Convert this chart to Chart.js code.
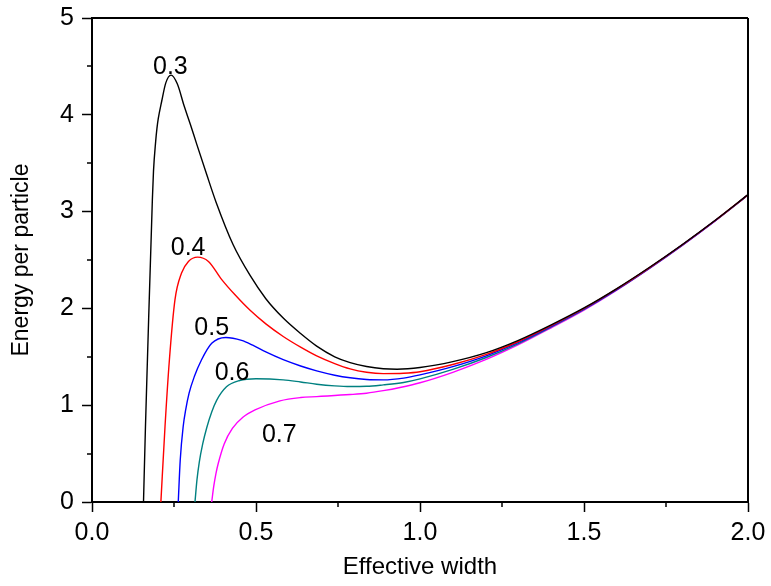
<!DOCTYPE html>
<html>
<head>
<meta charset="utf-8">
<script src="https://cdn.jsdelivr.net/npm/chart.js@4"></script>
<style>
  html, body { margin:0; padding:0; background:#fff; }
  #wrap { width:771px; height:586px; }
</style>
</head>
<body>
<div id="wrap"><canvas id="c" width="771" height="586"></canvas></div>
<script>
// curve labels (interaction strength)
const seriesNames = ["0.3", "0.4", "0.5", "0.6", "0.7"];
const seriesColors = ["#000000", "#ff0000", "#0000ff", "#008080", "#ff00ff"];

// shared tail of the curves
const tailWidth = [1.1, 1.2, 1.3, 1.4, 1.5, 1.6, 1.7, 1.8, 1.9, 2.0];

// 0.3
const width03 = [0.157, 0.163, 0.169, 0.184, 0.1875, 0.194, 0.198, 0.202, 0.2125, 0.225, 0.241, 0.26, 0.281, 0.30, 0.319, 0.35, 0.378, 0.43, 0.482, 0.53, 0.583, 0.636, 0.685, 0.74, 0.787, 0.837, 0.888, 0.93, 1.0];
const energy03 = [0, 0.78, 1.47, 3.12, 3.42, 3.72, 3.86, 3.96, 4.14, 4.33, 4.41, 4.32, 4.09, 3.90, 3.70, 3.38, 3.10, 2.66, 2.34, 2.10, 1.90, 1.74, 1.61, 1.50, 1.44, 1.40, 1.377, 1.372, 1.389];
const tail03 = [1.45, 1.54, 1.67, 1.83, 2.005, 2.205, 2.425, 2.66, 2.91, 3.175];

// 0.4
const width04 = [0.210, 0.2226, 0.236, 0.253, 0.273, 0.294, 0.322, 0.355, 0.395, 0.436, 0.482, 0.53, 0.583, 0.636, 0.685, 0.74, 0.787, 0.837, 0.888, 0.95, 1.0];
const energy04 = [0, 0.78, 1.47, 2.09, 2.365, 2.485, 2.53, 2.485, 2.30, 2.14, 1.98, 1.84, 1.71, 1.60, 1.51, 1.43, 1.375, 1.34, 1.326, 1.33, 1.346];
const tail04 = [1.42, 1.522, 1.658, 1.822, 1.999, 2.201, 2.422, 2.658, 2.908, 3.174];

// 0.5
const width05 = [0.263, 0.269, 0.278, 0.2856, 0.296, 0.312, 0.334, 0.365, 0.408, 0.456, 0.49, 0.53, 0.583, 0.636, 0.685, 0.74, 0.787, 0.837, 0.888, 0.95, 1.0];
const energy05 = [0, 0.434, 0.78, 0.951, 1.124, 1.296, 1.47, 1.64, 1.70, 1.67, 1.62, 1.55, 1.47, 1.405, 1.355, 1.31, 1.283, 1.266, 1.262, 1.28, 1.313];
const tail05 = [1.398, 1.507, 1.648, 1.815, 1.994, 2.197, 2.419, 2.656, 2.907, 3.172];

// 0.6
const width06 = [0.314, 0.320, 0.327, 0.3375, 0.350, 0.365, 0.380, 0.410, 0.450, 0.500, 0.583, 0.636, 0.685, 0.74, 0.787, 0.837, 0.888, 0.95, 1.0];
const energy06 = [0, 0.228, 0.41, 0.60, 0.77, 0.93, 1.05, 1.19, 1.255, 1.273, 1.262, 1.24, 1.217, 1.20, 1.193, 1.195, 1.21, 1.235, 1.272];
const tail06 = [1.37, 1.49, 1.637, 1.808, 1.989, 2.193, 2.416, 2.653, 2.905, 3.171];

// 0.7
const width07 = [0.365, 0.371, 0.378, 0.385, 0.403, 0.428, 0.46, 0.497, 0.573, 0.636, 0.685, 0.787, 0.837, 0.888, 0.939, 1.0];
const energy07 = [0, 0.158, 0.296, 0.40, 0.60, 0.76, 0.875, 0.951, 1.045, 1.079, 1.089, 1.11, 1.124, 1.15, 1.183, 1.232];
const tail07 = [1.34, 1.47, 1.625, 1.80, 1.983, 2.189, 2.413, 2.651, 2.903, 3.17];

// where the curve labels sit, in data units
const labelX = [0.239, 0.293, 0.365, 0.427, 0.571];
const labelY = [4.49, 2.622, 1.795, 1.327, 0.694];

const xTicks = [0, 0.5, 1.0, 1.5, 2.0];
const yTicks = [0, 1, 2, 3, 4, 5];

function pts(xs, ys, tx, ty){
  const out = xs.map((x,i)=>({x:x, y:ys[i]}));
  tx.forEach((x,i)=>out.push({x:x, y:ty[i]}));
  return out;
}

const curves = [
  pts(width03, energy03, tailWidth, tail03),
  pts(width04, energy04, tailWidth, tail04),
  pts(width05, energy05, tailWidth, tail05),
  pts(width06, energy06, tailWidth, tail06),
  pts(width07, energy07, tailWidth, tail07)
];

const FONT = "'Liberation Sans', Arial, Helvetica, sans-serif";

/* frame, minor ticks, curve labels */
const extras = {
  id: "extras",
  afterDraw(chart){
    const ctx = chart.ctx;
    const xs = chart.scales.x, ys = chart.scales.y;
    const a = chart.chartArea;
    ctx.save();
    ctx.strokeStyle = "#000";
    ctx.lineWidth = 2;
    ctx.beginPath();
    ctx.moveTo(a.left, a.top); ctx.lineTo(a.right, a.top);
    ctx.moveTo(a.right, a.top); ctx.lineTo(a.right, a.bottom);
    ctx.stroke();

    ctx.lineWidth = 1.5;
    ctx.beginPath();
    for(let v=0.25; v<2; v+=0.5){
      const px = Math.round(xs.getPixelForValue(v));
      ctx.moveTo(px, a.bottom); ctx.lineTo(px, a.bottom+5);
    }
    for(let v=0.5; v<5; v+=1){
      const py = Math.round(ys.getPixelForValue(v));
      ctx.moveTo(a.left, py); ctx.lineTo(a.left-5, py);
    }
    ctx.stroke();

    ctx.fillStyle = "#000";
    ctx.font = "25px " + FONT;
    ctx.textAlign = "center";
    ctx.textBaseline = "middle";
    seriesNames.forEach((n,i)=>{
      ctx.fillText(n, xs.getPixelForValue(labelX[i]), ys.getPixelForValue(labelY[i]));
    });
    ctx.restore();
  }
};

new Chart(document.getElementById("c"), {
  type: "line",
  data: {
    datasets: curves.map((d,i)=>({
      label: seriesNames[i],
      data: d,
      borderColor: seriesColors[i],
      borderWidth: 1.4,
      pointRadius: 0,
      fill: false,
      cubicInterpolationMode: "monotone"
    }))
  },
  options: {
    responsive: false,
    animation: false,
    layout: { padding: { top: 18, right: 23, left: 0, bottom: 0 } },
    plugins: { legend: { display: false }, tooltip: { enabled: false } },
    scales: {
      x: {
        type: "linear",
        min: 0, max: 2,
        afterBuildTicks: s => { s.ticks = xTicks.map(v=>({value:v})); },
        afterFit: s => { s.height = 84; s.paddingLeft = 0; s.paddingRight = 0; },
        ticks: {
          color: "#000",
          font: { family: FONT, size: 25 },
          padding: 6,
          maxRotation: 0,
          callback: v => Number(v).toFixed(1)
        },
        grid: { drawOnChartArea: false, drawTicks: true, tickLength: 10, tickColor: "#000", tickWidth: 1.5 },
        border: { display: true, color: "#000", width: 2 },
        title: { display: true, text: "Effective width", color: "#000", font: { family: FONT, size: 24 }, padding: { top: 4, bottom: 4 } }
      },
      y: {
        type: "linear",
        min: 0, max: 5,
        afterBuildTicks: s => { s.ticks = yTicks.map(v=>({value:v})); },
        afterFit: s => { s.width = 92; s.paddingTop = 0; s.paddingBottom = 0; },
        ticks: {
          color: "#000",
          font: { family: FONT, size: 25 },
          padding: 8,
          callback: v => String(v)
        },
        grid: { drawOnChartArea: false, drawTicks: true, tickLength: 10, tickColor: "#000", tickWidth: 1.5 },
        border: { display: true, color: "#000", width: 2 },
        title: { display: true, text: "Energy per particle", color: "#000", font: { family: FONT, size: 23 }, padding: { top: 8, bottom: 8 } }
      }
    }
  },
  plugins: [extras]
});
</script>
</body>
</html>
